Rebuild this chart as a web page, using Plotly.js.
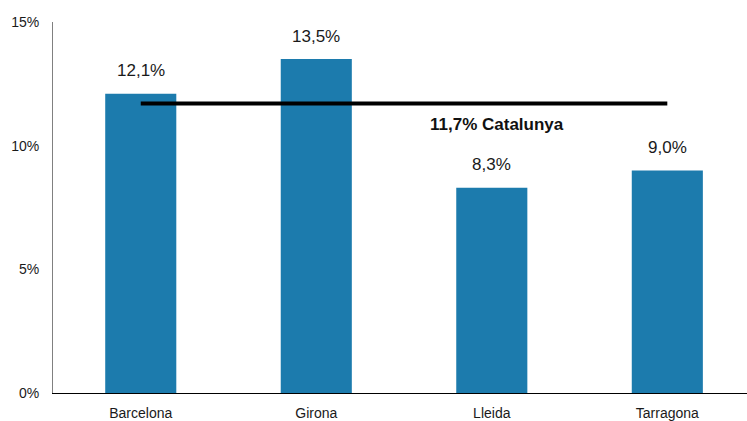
<!DOCTYPE html>
<html>
<head>
<meta charset="utf-8">
<script src="https://cdn.plot.ly/plotly-3.0.1.min.js"></script>
<style>html,body{margin:0;padding:0;background:#fff;}#chart{width:747px;height:421px;}</style>
</head>
<body>
<div id="chart"></div>
<script>
const categories = ['Barcelona', 'Girona', 'Lleida', 'Tarragona'];
const values = [12.1, 13.5, 8.3, 9.0];
const catalunyaValue = 11.7;
const catalunyaLabel = 'Catalunya';
const yTicks = [0, 5, 10, 15];

const fmt = v => v.toFixed(1).replace('.', ',') + '%';

const bars = {
  type: 'bar',
  x: categories,
  y: values,
  width: 0.405,
  marker: {color: '#1c7bad'},
  hoverinfo: 'none'
};
const line = {
  type: 'scatter',
  mode: 'lines',
  x: [categories[0], categories[categories.length - 1]],
  y: [catalunyaValue, catalunyaValue],
  line: {color: '#000', width: 4},
  hoverinfo: 'none'
};

const annotations = categories.map((c, i) => ({
  x: c, y: values[i], xref: 'x', yref: 'y',
  text: fmt(values[i]), showarrow: false,
  yanchor: 'middle', yshift: 23,
  font: {family: 'Liberation Sans, Arial, sans-serif', size: 17, color: '#1a1a1a'}
}));
annotations.push({
  x: 2.03, y: 10.84, xref: 'x', yref: 'y',
  text: '<b>' + fmt(catalunyaValue) + ' ' + catalunyaLabel + '</b>',
  showarrow: false,
  font: {family: 'Liberation Sans, Arial, sans-serif', size: 17, color: '#111'}
});

const layout = {
  width: 747, height: 421,
  margin: {l: 53, r: 0, t: 22, b: 28, pad: 0},
  paper_bgcolor: '#fff', plot_bgcolor: '#fff',
  showlegend: false,
  font: {family: 'Liberation Sans, Arial, sans-serif', size: 14, color: '#222'},
  xaxis: {
    type: 'category',
    range: [-0.5, 3.454],
    showline: true, linecolor: '#000', linewidth: 1,
    showgrid: false, zeroline: false, ticks: '',
    ticklabelstandoff: 7,
    tickfont: {size: 14, color: '#1a1a1a'}
  },
  yaxis: {
    range: [0, 15],
    tickvals: yTicks,
    ticktext: yTicks.map(t => t + '%'),
    showline: true, linecolor: '#808080', linewidth: 1,
    showgrid: false, zeroline: false, ticks: '',
    ticklabelstandoff: 10,
    tickfont: {size: 14, color: '#1a1a1a'}
  },
  annotations: annotations
};

Plotly.newPlot('chart', [bars, line], layout, {staticPlot: true, displayModeBar: false});
</script>
</body>
</html>
